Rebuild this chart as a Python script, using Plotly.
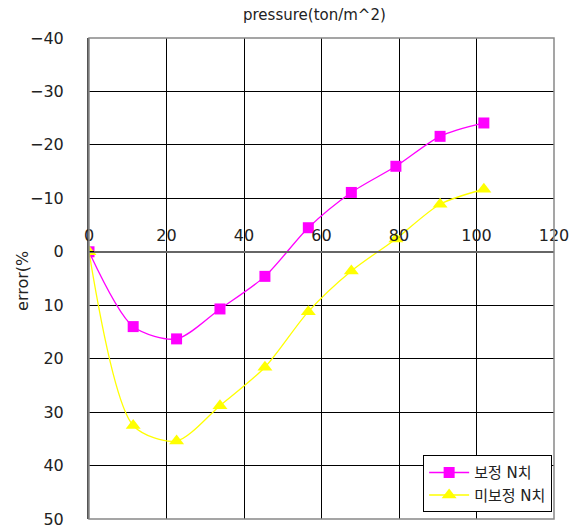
import plotly.graph_objects as go

pressure = [0, 11.4, 22.6, 33.8, 45.4, 56.6, 67.7, 79.2, 90.6, 101.9]
err_corrected = [0, 14.0, 16.3, 10.7, 4.6, -4.5, -11.1, -16.0, -21.6, -24.1]
err_uncorrected = [0, 32.5, 35.4, 28.8, 21.6, 11.2, 3.6, -2.4, -8.9, -11.7]
series_names = ["보정 N치", "미보정 N치"]

FONT = "DejaVu Sans, Noto Sans CJK KR, sans-serif"

fig = go.Figure()
fig.add_trace(go.Scatter(
    x=pressure, y=err_corrected, name=series_names[0], mode="lines+markers",
    line=dict(color="#FF00FF", width=1.3, shape="spline", smoothing=0.8),
    marker=dict(symbol="square", size=11, color="#FF00FF"),
))
fig.add_trace(go.Scatter(
    x=pressure, y=err_uncorrected, name=series_names[1], mode="lines+markers",
    line=dict(color="#FFFF00", width=1.3, shape="spline", smoothing=0.8),
    marker=dict(symbol="triangle-up", size=13, color="#FFFF00"),
))

fig.update_layout(
    width=578, height=528,
    margin=dict(l=89, r=24, t=38, b=9, autoexpand=False),
    paper_bgcolor="white", plot_bgcolor="white",
    font=dict(family=FONT, size=16, color="#222222"),
    showlegend=True,
    legend=dict(x=0.996, y=0.014, xanchor="right", yanchor="bottom",
                bordercolor="black", borderwidth=1, bgcolor="white",
                font=dict(size=15), tracegroupgap=0, itemwidth=40),
    xaxis=dict(range=[0, 120], dtick=20, tick0=0, anchor="free", position=50 / 90,
               side="top", ticks="inside", ticklen=6, tickcolor="black",
               showline=True, linecolor="#666666", linewidth=1.5,
               showgrid=True, gridcolor="black", gridwidth=1, zeroline=False,
               tickfont=dict(size=16), ticklabelstandoff=4, automargin=False,
               ticklabeloverflow="allow"),
    yaxis=dict(range=[50, -40], dtick=10, tick0=0, ticks="inside", ticklen=5,
               tickcolor="black", showline=True, linecolor="#555555", linewidth=2,
               showgrid=True, gridcolor="black", gridwidth=1, zeroline=False,
               tickfont=dict(size=16), ticklabelstandoff=20, automargin=False,
               ticklabeloverflow="allow"),
    shapes=[dict(type="rect", xref="paper", yref="paper", x0=0, x1=1, y0=0, y1=1,
                 line=dict(color="#888888", width=1.5), layer="above")],
    annotations=[
        dict(text="pressure(ton/m^2)", xref="paper", yref="paper",
             x=0.485, y=1, yshift=23, showarrow=False,
             font=dict(size=15), xanchor="center", yanchor="middle"),
        dict(text="error(%", xref="paper", yref="paper", x=-0.142, y=0.495,
             textangle=-90, showarrow=False, font=dict(size=16),
             xanchor="center", yanchor="middle"),
    ],
)

fig.write_html("out.html")
